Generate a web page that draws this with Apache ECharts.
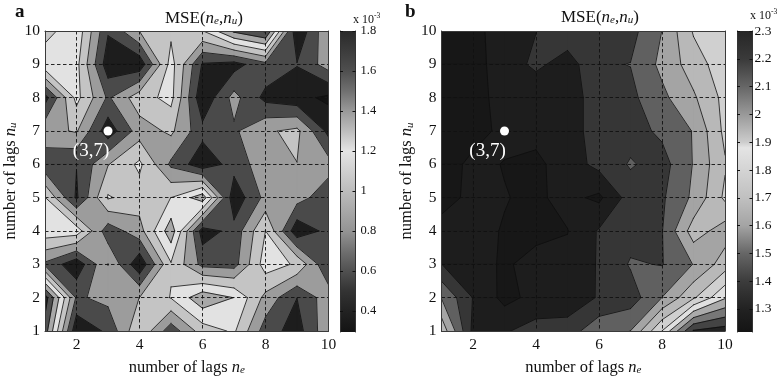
<!DOCTYPE html>
<html>
<head>
<meta charset="utf-8">
<style>html,body{margin:0;padding:0;background:#fff}#c{width:777px;height:378px}</style>
<script src="https://cdn.jsdelivr.net/npm/echarts@6/dist/echarts.min.js"></script>
</head>
<body>
<div id="c"></div>
<script>
const neValues = [1,2,3,4,5,6,7,8,9,10];
const nuValues = [10,9,8,7,6,5,4,3,2,1];
const xTicks = [2,4,6,8,10];
const yTicks = [1,2,3,4,5,6,7,8,9,10];

// MSE x 1e-3, rows nu = 10 ... 1, columns ne = 1 ... 10
const mseA = [
 [0.975,1.181,0.506,0.866,1.013,1.041,1.463,1.641,0.319,0.844],
 [1.181,1.106,0.375,0.356,1.125,0.469,0.413,0.619,0.497,0.769],
 [0.413,1.106,0.647,0.975,1.106,0.338,0.741,0.431,0.356,0.263],
 [0.806,0.881,0.375,0.769,0.900,0.546,0.647,0.834,0.909,0.431],
 [0.544,0.493,0.853,1.090,0.638,0.366,0.563,0.788,0.859,0.750],
 [1.059,0.459,1.069,0.956,1.051,1.350,0.356,0.731,0.750,0.563],
 [1.163,1.153,0.563,0.788,1.350,0.394,0.553,1.051,0.356,0.544],
 [0.638,0.356,0.866,0.338,1.031,0.619,0.600,1.144,1.024,0.497],
 [1.706,0.647,0.731,0.864,1.059,1.369,1.234,0.806,0.489,0.788],
 [1.519,0.338,0.525,1.031,0.563,0.956,1.078,0.581,0.403,0.819]
];
const mseB = [
 [1.265,1.288,1.346,1.398,1.463,1.463,1.459,1.581,1.769,1.823],
 [1.256,1.283,1.346,1.423,1.355,1.481,1.492,1.603,1.715,1.814],
 [1.256,1.283,1.337,1.319,1.364,1.436,1.468,1.558,1.657,1.787],
 [1.256,1.283,1.328,1.337,1.364,1.436,1.454,1.508,1.585,1.783],
 [1.274,1.328,1.307,1.289,1.355,1.427,1.499,1.454,1.585,1.751],
 [1.283,1.328,1.313,1.297,1.333,1.292,1.442,1.477,1.598,1.778],
 [1.337,1.328,1.306,1.292,1.308,1.409,1.454,1.486,1.715,1.625],
 [1.401,1.337,1.301,1.333,1.328,1.409,1.499,1.486,1.583,1.715],
 [1.576,1.397,1.283,1.337,1.337,1.409,1.445,1.581,1.747,1.931],
 [1.733,1.378,1.391,1.436,1.445,1.553,1.581,1.851,2.219,2.255]
];
const levelsA = [0.3,0.4875,0.675,0.8625,1.05,1.2375,1.425,1.6125];
const bandColorsA = ['#1d1d1d','#4a4a4a','#9c9c9c','#c4c4c4','#e2e2e2','#a8a8a8','#505050','#222222'];
const belowColorA = '#131313';
const levelsB = [1.22,1.31,1.40,1.49,1.58,1.67,1.76,1.85,1.94,2.03,2.12,2.21];
const bandColorsB = ['#171717','#1d1d1d','#363636','#606060','#a4a4a4','#b8b8b8','#d0d0d0','#e0e0e0','#aaaaaa','#777777','#444444','#222222'];
const belowColorB = '#141414';

const barValuesA = [1.8,1.7,1.6,1.5,1.4,1.3,1.2,1.1,1.0,0.9,0.8,0.7,0.6,0.5,0.4,0.3];
const barColorsA = ['#2a2a2a','#3c3c3c','#4f4f4f','#707070','#999999','#bdbdbd','#e4e4e4','#d0d0d0','#bcbcbc','#a8a8a8','#949494','#707070','#505050','#333333','#222222','#141414'];
const barTicksA = [0.4,0.6,0.8,1,1.2,1.4,1.6,1.8];
const barValuesB = [2.3,2.2,2.1,2.0,1.9,1.88,1.8,1.7,1.6,1.5,1.4,1.3,1.217];
const barColorsB = ['#262626','#3a3a3a','#666666','#999999','#cccccc','#e4e4e4','#d4d4d4','#c0c0c0','#a4a4a4','#666666','#3c3c3c','#222222','#141414'];
const barTicksB = [1.3,1.4,1.5,1.6,1.7,1.8,1.9,2,2.1,2.2,2.3];
const bestPoint = [[3,7]];
const bestLabel = '(3,7)';

const serif = 'Liberation Serif';

function edgeCrossing(cs, e, level, crossings) {
  // crossings are stored in edge order, so count the crossed edges before e
  let n = 0;
  for (let k = 0; k < e; k++) {
    if ((cs[k].v >= level) !== (cs[(k+1)%4].v >= level)) n++;
  }
  return crossings[n];
}
function cellContour(z, i, j, level) {
  // corners walked around the cell: (i,j) (i+1,j) (i+1,j+1) (i,j+1)
  const cs = [[i,j],[i+1,j],[i+1,j+1],[i,j+1]].map(([a,b]) => ({x:neValues[a], y:nuValues[b], v:z[b][a]}));
  const seq = [];
  const crossings = [];
  for (let k = 0; k < 4; k++) {
    const p = cs[k], q = cs[(k+1)%4];
    const pin = p.v >= level, qin = q.v >= level;
    if (pin) seq.push([p.x,p.y]);
    if (pin !== qin) {
      const t = (level - p.v) / (q.v - p.v);
      const c = [p.x + (q.x-p.x)*t, p.y + (q.y-p.y)*t];
      seq.push(c);
      crossings.push({c, exit: pin});
    }
  }
  const centre = (cs[0].v + cs[1].v + cs[2].v + cs[3].v) / 4;
  if (crossings.length === 4 && centre < level) {
    // saddle with a low centre: the two high corners stay apart
    const polys = [], segs = [];
    for (let k = 0; k < 4; k++) {
      if (cs[k].v >= level) {
        const prev = edgeCrossing(cs, (k + 3) % 4, level, crossings);
        const next = edgeCrossing(cs, k, level, crossings);
        polys.push([[cs[k].x, cs[k].y], next.c, prev.c]);
        segs.push([next.c, prev.c]);
      }
    }
    return {polys, segs};
  }
  const segs = [];
  for (let k = 0; k < crossings.length; k++) {
    if (crossings[k].exit) segs.push([crossings[k].c, crossings[(k+1)%crossings.length].c]);
  }
  return {polys: seq.length >= 3 ? [seq] : [], segs};
}

function panelSeries(z, levels, colors, below, gridIdx) {
  const axisIdx = gridIdx === 0 ? 0 : 4;
  const fillData = [], lineData = [];
  for (let l = -1; l < levels.length; l++) {
    for (let b = 0; b < 9; b++) for (let a = 0; a < 9; a++) {
      fillData.push([neValues[a], nuValues[b], l, a, b]);
      if (l >= 0) lineData.push([neValues[a], nuValues[b], l, a, b]);
    }
  }
  return [{
    type:'custom', coordinateSystem:'cartesian2d', xAxisIndex:axisIdx, yAxisIndex:axisIdx, silent:true, z:2, clip:true,
    data:fillData,
    renderItem(params, api) {
      const l = api.value(2), a = api.value(3), b = api.value(4);
      const color = l < 0 ? below : colors[l];
      const r = cellContour(z, a, b, l < 0 ? -Infinity : levels[l]);
      return {type:'group', children:r.polys.map(poly => ({
        type:'polygon', shape:{points:poly.map(p => api.coord(p))},
        style:{fill:color, stroke:color, lineWidth:0.7}}))};
    }
  },{
    type:'custom', coordinateSystem:'cartesian2d', xAxisIndex:axisIdx, yAxisIndex:axisIdx, silent:true, z:3, clip:true,
    data:lineData,
    renderItem(params, api) {
      const l = api.value(2), a = api.value(3), b = api.value(4);
      const r = cellContour(z, a, b, levels[l]);
      return {type:'group', children:r.segs.map(s => {
        const p = api.coord(s[0]), q = api.coord(s[1]);
        return {type:'line', shape:{x1:p[0],y1:p[1],x2:q[0],y2:q[1]},
                style:{stroke:'#0c0c0c', lineWidth:0.8, lineCap:'round'}};
      })};
    }
  },{
    type:'scatter', xAxisIndex:axisIdx, yAxisIndex:axisIdx, z:10, silent:true,
    symbol:'circle', symbolSize:9, itemStyle:{color:'#ffffff', opacity:1},
    data:bestPoint,
    label:{show:true, position:'bottom', offset:[-17,1], formatter:bestLabel, color:'#ffffff',
           fontFamily:serif, fontSize:19}
  }];
}

function barSeries(values, colors, min, max, axisIdx) {
  const stops = values.map((v,i) => ({offset:(max-v)/(max-min), color:colors[i]}));
  return {
    type:'custom', coordinateSystem:'cartesian2d', xAxisIndex:axisIdx, yAxisIndex:axisIdx, silent:true, z:2,
    data:[[0,min,1,max]],
    renderItem(params, api) {
      const p = api.coord([api.value(0), api.value(3)]);
      const q = api.coord([api.value(2), api.value(1)]);
      return {type:'rect', shape:{x:p[0], y:p[1], width:q[0]-p[0], height:q[1]-p[1]},
              style:{fill:new echarts.graphic.LinearGradient(0,0,0,1,stops)}};
    }
  };
}

const frame = {lineStyle:{color:'#3a3a3a', width:1}};
const dash = {show:true, lineStyle:{color:'#111111', type:[3.5,2.5], width:0.9}};
const nameRich = {
  t:{fontFamily:serif, fontSize:16.5, color:'#111'},
  i:{fontFamily:serif, fontSize:16.5, fontStyle:'italic', color:'#111'},
  s:{fontFamily:serif, fontSize:11, fontStyle:'italic', color:'#111', verticalAlign:'bottom', padding:[5,0,0,0]}
};
function mainX(grid, top) {
  return {type:'value', gridIndex:grid, min:1, max:10, position:top?'top':'bottom', z:5,
    axisLine:{show:true, onZero:false, ...frame}, axisTick:{show:false, customValues:xTicks},
    splitLine: top ? {show:false} : dash,
    axisLabel: top ? {show:false} : {show:true, customValues:xTicks, margin:6, fontFamily:serif, fontSize:15.5, color:'#111', hideOverlap:false, showMinLabel:true, showMaxLabel:true},
    name: top ? '' : '{t|number of lags }{i|n}{s|e}', nameLocation:'middle', nameGap:28, nameMoveOverlap:false,
    nameTextStyle:{rich:nameRich}};
}
function mainY(grid, right) {
  return {type:'value', gridIndex:grid, min:1, max:10, interval:1, position:right?'right':'left', z:5,
    axisLine:{show:true, onZero:false, ...frame}, axisTick:{show:false},
    splitLine: right ? {show:false} : dash,
    axisLabel: right ? {show:false} : {show:true, margin:5, fontFamily:serif, fontSize:15.5, color:'#111', showMinLabel:true, showMaxLabel:true},
    name: right ? '' : '{t|number of lags }{i|n}{s|u}', nameLocation:'middle', nameGap:26, nameRotate:90, nameMoveOverlap:false,
    nameTextStyle:{rich:nameRich}};
}
function barX(grid) {
  return {type:'value', gridIndex:grid, min:0, max:1, show:false};
}
function barY(grid, min, max, ticks, right, margin, size) {
  return {type:'value', gridIndex:grid, min, max, position:right?'right':'left', z:5,
    axisLine:{show:true, onZero:false, lineStyle:{color:'#333', width:1}},
    axisTick:{show:true, inside:true, length:3, customValues:ticks, lineStyle:{color:'#111', width:1}},
    splitLine:{show:false},
    axisLabel: right ? {show:true, customValues:ticks, margin, fontFamily:serif, fontSize:size, color:'#111', showMinLabel:true, showMaxLabel:true} : {show:false}};
}

function titleText(left, top, text) {
  return {left, top, text, padding:0, textStyle:{
    fontWeight:'normal',
    rich:{
      t:{fontFamily:serif, fontSize:17, fontWeight:'normal', color:'#111'},
      i:{fontFamily:serif, fontSize:17, fontWeight:'normal', fontStyle:'italic', color:'#111'},
      s:{fontFamily:serif, fontSize:11, fontWeight:'normal', fontStyle:'italic', color:'#111', verticalAlign:'bottom', padding:[5,0,0,0]},
      x:{fontFamily:serif, fontSize:12, fontWeight:'normal', color:'#111', verticalAlign:'bottom'},
      e:{fontFamily:serif, fontSize:7.5, fontWeight:'normal', color:'#111', verticalAlign:'top', padding:[0,0,6,0]},
      b:{fontFamily:serif, fontSize:19, fontWeight:'bold', color:'#111'}
    }}};
}

const mseTitle = '{t|MSE(}{i|n}{s|e}{t|,}{i|n}{s|u}{t|)}';
const option = {
  animation:false,
  backgroundColor:'#ffffff',
  title:[
    titleText(15, 3, '{b|a}'),
    titleText(405, 3, '{b|b}'),
    titleText(165, 10, mseTitle),
    titleText(561, 9, mseTitle),
    titleText(353, 12, '{x|x 10}{e|-3}'),
    titleText(750, 8, '{x|x 10}{e|-3}')
  ],
  grid:[
    {left:45, top:31, width:283.5, height:300, outerBoundsMode:'none'},
    {left:340, top:31, width:15.5, height:301, outerBoundsMode:'none'},
    {left:441.5, top:31, width:283.5, height:300, outerBoundsMode:'none'},
    {left:737, top:31, width:15.5, height:301, outerBoundsMode:'none'}
  ],
  xAxis:[
    mainX(0,false), mainX(0,true), barX(1), barX(1),
    mainX(2,false), mainX(2,true), barX(3), barX(3)
  ],
  yAxis:[
    mainY(0,false), mainY(0,true), barY(1,0.296,1.8,barTicksA,true,5,12.5), barY(1,0.296,1.8,barTicksA,false),
    mainY(2,false), mainY(2,true), barY(3,1.217,2.3,barTicksB,true,2,13.5), barY(3,1.217,2.3,barTicksB,false)
  ],
  series:[
    ...panelSeries(mseA, levelsA, bandColorsA, belowColorA, 0),
    barSeries(barValuesA, barColorsA, 0.296, 1.8, 2),
    ...panelSeries(mseB, levelsB, bandColorsB, belowColorB, 2),
    barSeries(barValuesB, barColorsB, 1.217, 2.3, 6)
  ]
};
const chart = echarts.init(document.getElementById('c'), null, {renderer:'canvas'});
chart.setOption(option);
</script>
</body>
</html>
